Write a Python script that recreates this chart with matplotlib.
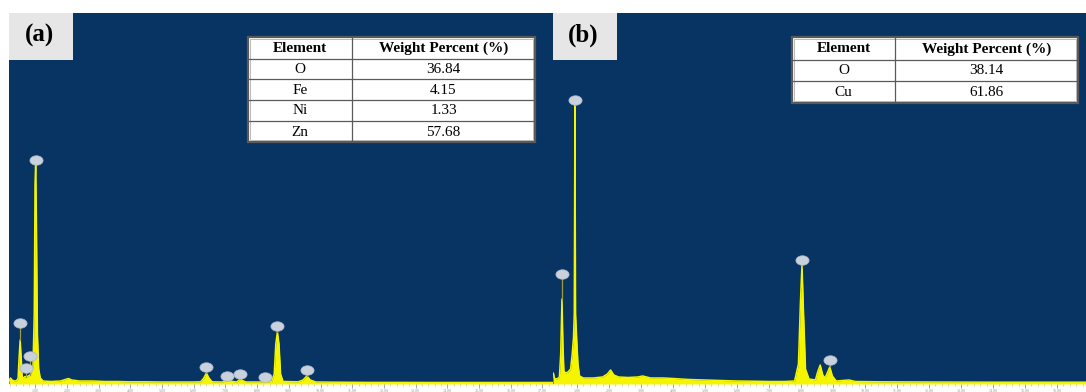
# -*- coding: utf-8 -*-
import numpy as np
import matplotlib
matplotlib.use('Agg')
import matplotlib.pyplot as plt
from matplotlib.path import Path
from matplotlib.patches import Rectangle
from matplotlib.ticker import MultipleLocator, AutoMinorLocator

plt.rcParams['font.family'] = ['Liberation Serif', 'DejaVu Serif']

# spectrum (a): energy in keV, counts
energy_a = [0.17, 0.22, 0.27, 0.35, 0.42, 0.46, 0.49, 0.525, 0.56, 0.59, 0.62, 0.68,
            0.72, 0.78, 0.84, 0.89, 0.93, 0.97, 0.995, 1.015, 1.035, 1.07, 1.11, 1.16,
            1.25, 1.5, 1.8, 1.95, 2.05, 2.15, 2.4, 2.8, 3.2, 3.6, 4.0, 4.5, 5.0, 5.5,
            6.0, 6.22, 6.32, 6.40, 6.48, 6.58, 6.9, 7.0, 7.06, 7.12, 7.35, 7.42, 7.47,
            7.53, 7.65, 8.1, 8.25, 8.35, 8.46, 8.54, 8.59, 8.64, 8.69, 8.74, 8.82,
            9.3, 9.45, 9.57, 9.68, 9.85, 10.5, 11.5, 12.5, 13.5, 15.0, 17.4]
counts_a = [30, 60, 40, 30, 35, 60, 250, 440, 250, 70, 60, 75,
            70, 80, 90, 130, 170, 700, 2000, 2210, 1700, 500, 150, 60,
            30, 25, 30, 45, 55, 40, 30, 30, 25, 25, 22, 22, 20, 20,
            20, 22, 60, 110, 60, 22, 20, 30, 45, 30, 20, 35, 50,
            35, 20, 20, 28, 22, 25, 100, 400, 520, 400, 100, 25,
            22, 40, 80, 40, 20, 18, 16, 16, 15, 15, 15]
marker_e_a = [0.525, 0.70, 0.84, 1.015, 6.40, 7.06, 7.47, 8.26, 8.64, 9.57]
marker_c_a = [610, 160, 280, 2240, 170, 80, 100, 70, 580, 140]

# spectrum (b)
energy_b = [0.25, 0.27, 0.29, 0.33, 0.40, 0.45, 0.49, 0.53, 0.56, 0.59, 0.64, 0.72,
            0.80, 0.85, 0.89, 0.915, 0.935, 0.955, 0.99, 1.03, 1.08, 1.2, 1.5, 1.8,
            1.95, 2.05, 2.15, 2.3, 2.6, 2.9, 3.05, 3.3, 3.7, 4.0, 4.5, 5.0, 5.5,
            6.0, 6.5, 7.0, 7.5, 7.8, 7.92, 7.98, 8.03, 8.08, 8.14, 8.25, 8.45,
            8.52, 8.60, 8.68, 8.75, 8.82, 8.90, 8.98, 9.1, 9.5, 9.7, 10.5, 12.0,
            14.0, 17.0]
counts_b = [110, 100, 60, 50, 55, 70, 300, 850, 400, 130, 110, 120,
            150, 300, 460, 700, 2790, 700, 450, 200, 80, 60, 60, 70,
            100, 140, 90, 70, 65, 70, 80, 60, 60, 55, 45, 40, 35,
            30, 28, 25, 25, 30, 200, 800, 1190, 700, 150, 50, 40,
            120, 190, 90, 60, 110, 170, 80, 30, 40, 25, 22, 20,
            18, 18]
marker_e_b = [0.53, 0.935, 8.03, 8.90]
marker_c_b = [1100, 2840, 1240, 240]

# tables
elements_a = ['O', 'Fe', 'Ni', 'Zn']
weight_a = ['36.84', '4.15', '1.33', '57.68']
elements_b = ['O', 'Cu']
weight_b = ['38.14', '61.86']

W, H = 1086, 392
BLUE = '#073462'
YELLOW = '#f5f500'

# ellipse marker
t = np.linspace(0, 2 * np.pi, 60)
ell = Path(np.column_stack([np.cos(t), 0.72 * np.sin(t)]), closed=True)

fig = plt.figure(figsize=(W / 100, H / 100), dpi=100, facecolor='white')


def px_axes(x0, y0, x1, y1):
    return fig.add_axes([x0 / W, 1 - y1 / H, (x1 - x0) / W, (y1 - y0) / H])


def draw_spectrum(ax, e, c, me, mc, xlim):
    ax.set_facecolor(BLUE)
    ax.fill_between(e, c, 0, color=YELLOW, lw=0)
    ax.plot(e, c, color=YELLOW, lw=1.1)
    top = np.interp(me, e, c)
    for x, y0, y1 in zip(me, top, mc):
        if y1 > y0:
            ax.plot([x, x], [y0, y1], color='#9c9c3c', lw=0.9, zorder=3)
    ax.plot(me, mc, ls='none', marker=ell, ms=9.5, mfc='#c9d1dd', mec='#aab5c6',
            mew=0.5, zorder=4)
    ax.set_xlim(*xlim)
    ax.set_ylim(0, 3710)
    for s in ax.spines.values():
        s.set_visible(False)
    ax.set_yticks([])
    ax.xaxis.set_major_locator(MultipleLocator(1))
    ax.xaxis.set_minor_locator(AutoMinorLocator(5))
    ax.xaxis.set_major_formatter(plt.FormatStrFormatter('%.2f'))
    ax.tick_params(axis='x', which='major', length=3, width=0.6, color='#999999',
                   labelsize=3, labelcolor='#999999', pad=0.5)
    ax.tick_params(axis='x', which='minor', length=1.5, width=0.4, color='#aaaaaa')


def draw_label(x0, text):
    lab = px_axes(x0, 13, x0 + 64, 60)
    lab.set_facecolor('#e6e6e6')
    lab.set_xticks([])
    lab.set_yticks([])
    for s in lab.spines.values():
        s.set_visible(False)
    lab.text(0.47, 0.53, text, ha='center', va='center', fontsize=18,
             fontweight='bold', transform=lab.transAxes)


def draw_table(x0, y0, x1, y1, col, rows_y, elems, vals):
    w, h = x1 - x0, y1 - y0
    tb = px_axes(x0, y0, x1, y1)
    tb.set_xlim(0, w)
    tb.set_ylim(h, 0)
    tb.axis('off')
    tb.add_patch(Rectangle((0, 0), w, h, facecolor='white', edgecolor='#5a5a5a',
                           lw=1.6, clip_on=False))
    tb.add_patch(Rectangle((1.8, 1.8), w - 3.6, h - 3.6, facecolor='none',
                           edgecolor='#b0b0b0', lw=0.6))
    tb.plot([col, col], [0, h], color='#5a5a5a', lw=0.9)
    for ry in rows_y[1:-1]:
        tb.plot([0, w], [ry, ry], color='#5a5a5a', lw=0.9)
    labels = [('Element', 'Weight Percent (%)')] + list(zip(elems, vals))
    for i, (a, b) in enumerate(labels):
        yc = (rows_y[i] + rows_y[i + 1]) / 2 + 0.5
        fw = 'bold' if i == 0 else 'normal'
        tb.text(col / 2, yc, a, ha='center', va='center', fontsize=11, fontweight=fw)
        tb.text((col + w) / 2, yc, b, ha='center', va='center', fontsize=11,
                fontweight=fw)


ax_a = px_axes(9, 13, 553, 384)
draw_spectrum(ax_a, energy_a, counts_a, marker_e_a, marker_c_a,
              ((9 - 3.5) / 31.7, (553 - 3.5) / 31.7))
ax_b = px_axes(553, 13, 1086, 384)
draw_spectrum(ax_b, energy_b, counts_b, marker_e_b, marker_c_b,
              ((553 - 545) / 32.0, (1086 - 545) / 32.0))

draw_label(9, '(a)')
draw_label(553, '(b)')

draw_table(248, 37, 535, 142, 104, [0, 22, 42, 63, 84, 105], elements_a, weight_a)
draw_table(792, 37, 1078, 103, 103, [0, 23, 44, 66], elements_b, weight_b)

fig.savefig('out.png', dpi=100, facecolor='white')
